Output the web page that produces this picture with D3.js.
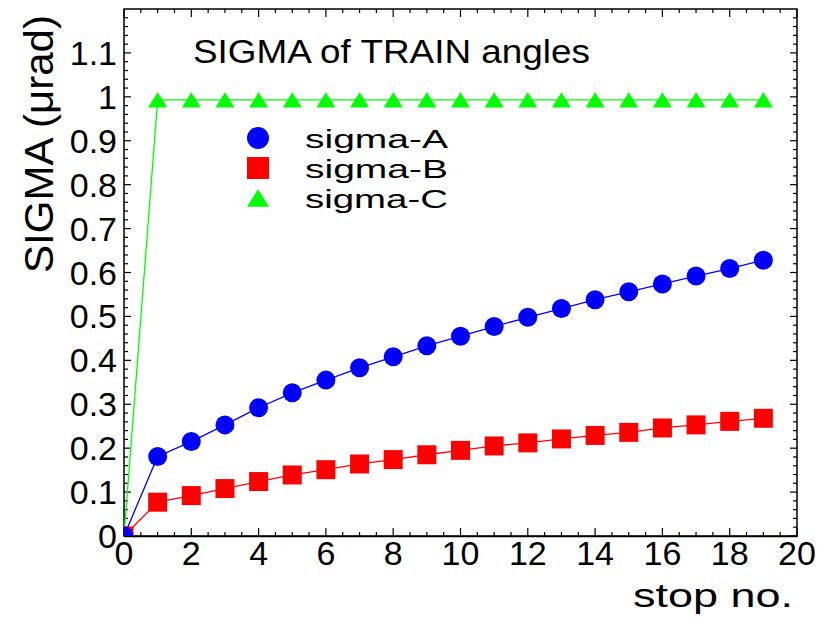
<!DOCTYPE html>
<html>
<head>
<meta charset="utf-8">
<script src="https://cdn.jsdelivr.net/npm/d3@7"></script>
<style>
  html, body { margin: 0; padding: 0; background: #fff; }
  svg { display: block; }
  text { font-family: "Liberation Sans", Arial, sans-serif; fill: #000; }
</style>
</head>
<body>
<svg id="chart" width="822" height="621"></svg>
<script>
// Stop numbers along the train
const stops = [0, 1, 2, 3, 4, 5, 6, 7, 8, 9, 10, 11, 12, 13, 14, 15, 16, 17, 18, 19];

// Angle spread per stop (µrad)
const sigmaA = [0, 0.181, 0.215, 0.253, 0.292, 0.326, 0.355, 0.383, 0.408, 0.433,
                0.455, 0.477, 0.498, 0.518, 0.538, 0.556, 0.574, 0.592, 0.609, 0.628];
const sigmaB = [0, 0.077, 0.092, 0.108, 0.124, 0.139, 0.151, 0.164, 0.174, 0.185,
                0.195, 0.205, 0.212, 0.221, 0.229, 0.236, 0.246, 0.253, 0.261, 0.268];
const sigmaC = [0, 0.993, 0.993, 0.993, 0.993, 0.993, 0.993, 0.993, 0.993, 0.993,
                0.993, 0.993, 0.993, 0.993, 0.993, 0.993, 0.993, 0.993, 0.993, 0.993];

const seriesNames = ["sigma-A", "sigma-B", "sigma-C"];
const seriesColors = ["#0000ff", "#ff0000", "#00ff00"];
const seriesShapes = ["circle", "square", "triangle"];

const xTicks = [0, 2, 4, 6, 8, 10, 12, 14, 16, 18, 20];
const yTicks = [0, 0.1, 0.2, 0.3, 0.4, 0.5, 0.6, 0.7, 0.8, 0.9, 1, 1.1];

const titleText = "SIGMA of TRAIN angles";
const xTitle = "stop no.";
const yTitle = "SIGMA (\u03bcrad)";

const svg = d3.select("#chart");
const frame = { left: 124, right: 797, top: 9, bottom: 536 };

const x = d3.scaleLinear().domain([0, 20]).range([frame.left, frame.right]);
const y = d3.scaleLinear().domain([0, 1.2]).range([frame.bottom, frame.top]);

// Clip region for the data marks
svg.append("defs").append("clipPath").attr("id", "plotclip")
  .append("rect")
  .attr("x", frame.left).attr("y", frame.top)
  .attr("width", frame.right - frame.left).attr("height", frame.bottom - frame.top);

// Ticks: majors every 2 on x, every 0.1 on y; minors every 0.5 / 0.02
const xMinor = d3.range(0, 20.001, 0.5).filter(v => Math.abs(v / 2 - Math.round(v / 2)) > 1e-6);
const yMinor = d3.range(0, 1.2001, 0.02).filter(v => Math.abs(v * 10 - Math.round(v * 10)) > 1e-6);

const axes = svg.append("g").attr("stroke", "#000").attr("stroke-width", 1.2);

// Bottom axis baseline
const xAxisBottom = d3.axisBottom(x).tickValues([]).tickSizeOuter(0);
svg.append("g").attr("transform", `translate(0,${frame.bottom})`).call(xAxisBottom)
  .select(".domain").attr("stroke-width", 1.5);

// Bottom and top axes (ticks point into the frame)
axes.selectAll(".xmaj").data(xTicks).join("line")
  .attr("x1", d => x(d)).attr("x2", d => x(d))
  .attr("y1", frame.bottom).attr("y2", frame.bottom - 8);
axes.selectAll(".xmin").data(xMinor).join("line")
  .attr("x1", d => x(d)).attr("x2", d => x(d))
  .attr("y1", frame.bottom).attr("y2", frame.bottom - 4);
axes.selectAll(".xmajt").data(xTicks).join("line")
  .attr("x1", d => x(d)).attr("x2", d => x(d))
  .attr("y1", frame.top).attr("y2", frame.top + 8);
axes.selectAll(".xmint").data(xMinor).join("line")
  .attr("x1", d => x(d)).attr("x2", d => x(d))
  .attr("y1", frame.top).attr("y2", frame.top + 4);

// Left and right axes
axes.selectAll(".ymaj").data(yTicks).join("line")
  .attr("x1", frame.left).attr("x2", frame.left + 7)
  .attr("y1", d => y(d)).attr("y2", d => y(d));
axes.selectAll(".ymin").data(yMinor).join("line")
  .attr("x1", frame.left).attr("x2", frame.left + 4)
  .attr("y1", d => y(d)).attr("y2", d => y(d));
axes.selectAll(".ymajr").data(yTicks).join("line")
  .attr("x1", frame.right).attr("x2", frame.right - 7)
  .attr("y1", d => y(d)).attr("y2", d => y(d));
axes.selectAll(".yminr").data(yMinor).join("line")
  .attr("x1", frame.right).attr("x2", frame.right - 4)
  .attr("y1", d => y(d)).attr("y2", d => y(d));

// Frame
svg.append("rect")
  .attr("x", frame.left).attr("y", frame.top)
  .attr("width", frame.right - frame.left).attr("height", frame.bottom - frame.top)
  .attr("fill", "none").attr("stroke", "#000").attr("stroke-width", 1.5);

// Tick labels
const fmtY = d => d === 0 ? "0" : String(+d.toFixed(1));
svg.append("g").selectAll("text").data(yTicks).join("text")
  .attr("x", frame.left - 7).attr("y", d => y(d) + 12)
  .attr("text-anchor", "end").attr("font-size", 34)
  .text(fmtY);
svg.append("g").selectAll("text").data(xTicks).join("text")
  .attr("x", d => x(d)).attr("y", 565)
  .attr("text-anchor", "middle").attr("font-size", 34)
  .text(d => String(d));

// Axis titles
svg.append("text")
  .attr("x", 793).attr("y", 607)
  .attr("text-anchor", "end").attr("font-size", 34)
  .attr("textLength", 160).attr("lengthAdjust", "spacingAndGlyphs")
  .text(xTitle);
svg.append("text")
  .attr("transform", "translate(53,273) rotate(-90)")
  .attr("text-anchor", "start").attr("font-size", 41)
  .attr("textLength", 258).attr("lengthAdjust", "spacingAndGlyphs")
  .text(yTitle);

// Title
svg.append("text")
  .attr("x", 193).attr("y", 63).attr("font-size", 33)
  .attr("textLength", 397).attr("lengthAdjust", "spacingAndGlyphs")
  .text(titleText);

// Marker symbols
function markerPath(shape, size) {
  if (shape === "circle") return d3.symbol(d3.symbolCircle, Math.PI * size * size / 4)();
  if (shape === "square") return d3.symbol(d3.symbolSquare, size * size)();
  // upward triangle, width = size
  const h = size * 0.8;
  return `M0,${-h / 2}L${size / 2},${h / 2}L${-size / 2},${h / 2}Z`;
}

const seriesValues = [sigmaA, sigmaB, sigmaC];
const line = d3.line().x(d => x(d[0])).y(d => y(d[1]));
const plot = svg.append("g").attr("clip-path", "url(#plotclip)");

// Draw C first, then B, then A on top
[2, 1, 0].forEach(i => {
  const pts = stops.map((s, k) => [s, seriesValues[i][k]]);
  plot.append("path").datum(pts)
    .attr("d", line).attr("fill", "none")
    .attr("stroke", seriesColors[i]).attr("stroke-width", 1.3);
  plot.append("g").selectAll("path").data(pts).join("path")
    .attr("transform", d => `translate(${x(d[0])},${y(d[1])})`)
    .attr("d", markerPath(seriesShapes[i], 19))
    .attr("fill", seriesColors[i]);
});

// Legend
const legend = svg.append("g");
const legendRows = [138, 168, 198];
seriesNames.forEach((name, i) => {
  legend.append("path")
    .attr("transform", `translate(258,${legendRows[i]})`)
    .attr("d", markerPath(seriesShapes[i], 22))
    .attr("fill", seriesColors[i]);
  legend.append("text")
    .attr("x", 305).attr("y", legendRows[i] + 10)
    .attr("font-size", 26)
    .attr("textLength", 143).attr("lengthAdjust", "spacingAndGlyphs")
    .text(name);
});
</script>
</body>
</html>
